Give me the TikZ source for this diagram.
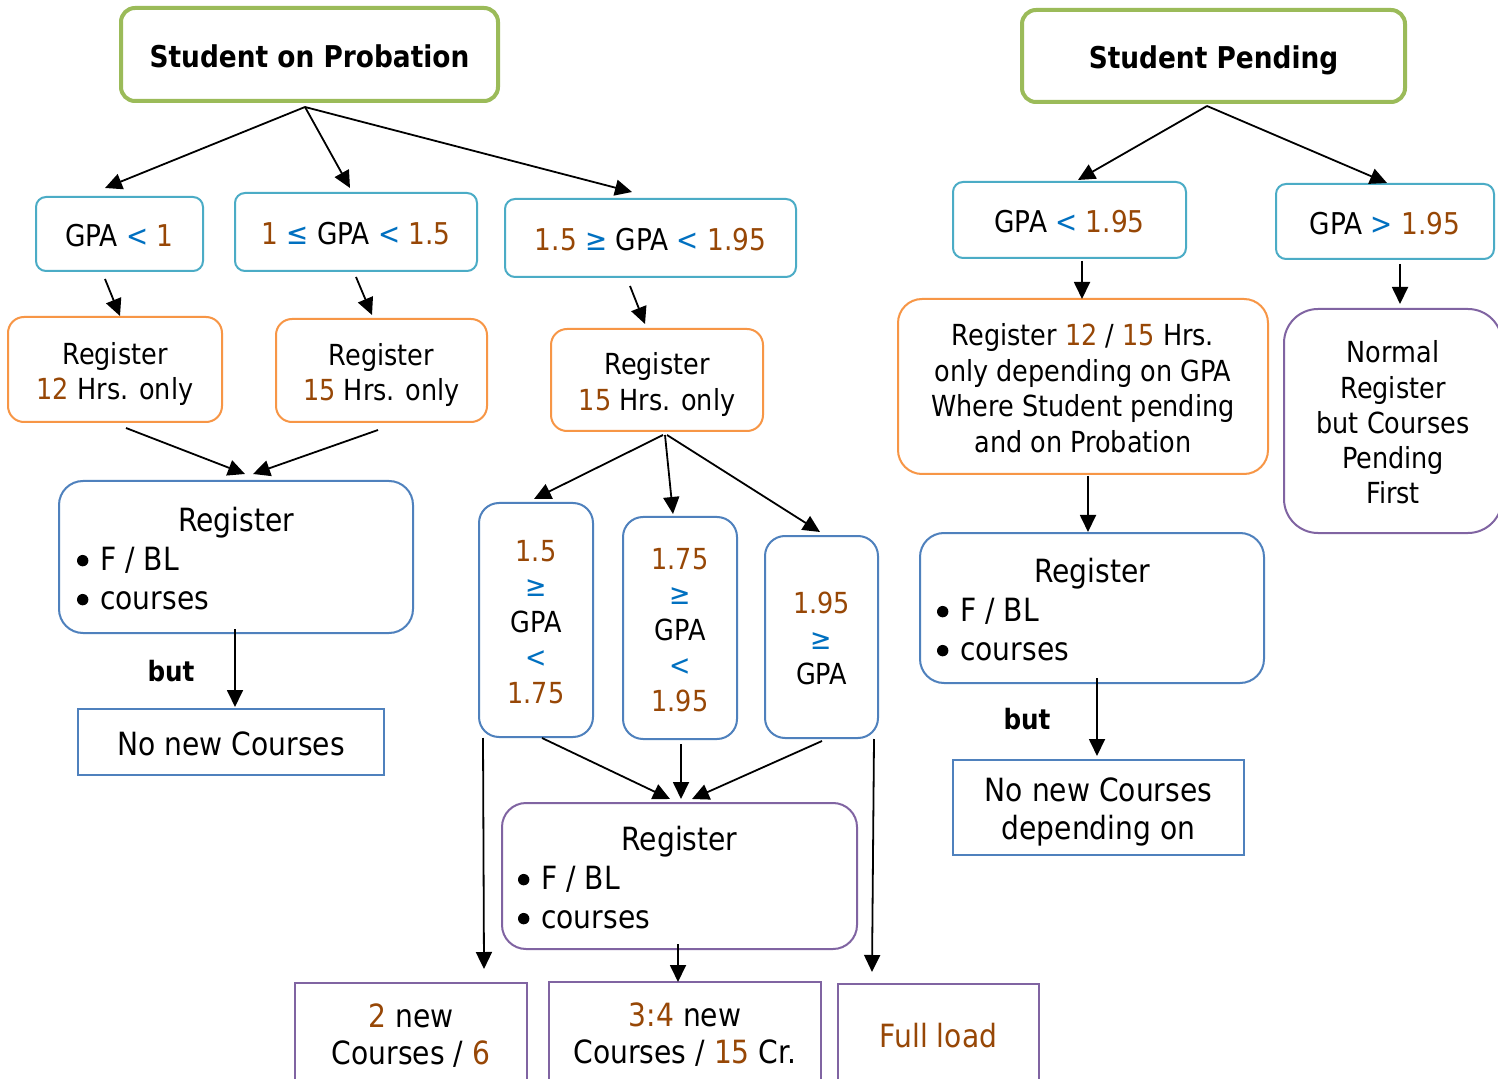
\documentclass[tikz,border=0pt]{standalone}
\usepackage{fontspec}
\setmainfont{DejaVu Sans}[FakeStretch=0.88]
\usetikzlibrary{calc,arrows.meta}
\definecolor{numc}{RGB}{151,71,6}
\definecolor{symc}{RGB}{0,112,192}
\definecolor{tealc}{RGB}{75,172,198}
\definecolor{orc}{RGB}{247,150,70}
\definecolor{grc}{RGB}{155,187,89}
\definecolor{blc}{RGB}{79,129,189}
\definecolor{puc}{RGB}{128,100,162}
\newcommand\NUM[1]{\textcolor{numc}{#1}}
\newcommand\SYM[1]{\textcolor{symc}{#1}}
\newcommand\TXT[1]{\raisebox{-0.15\baselineskip}[\height][\depth]{\begin{tabular}{@{}c@{}}#1\end{tabular}}}
\newcommand\BUL{\hspace{-0.5pt}\tikz[baseline=0pt]{\path (0pt,0pt) rectangle (11.6pt,0pt); \fill[black] (2.85pt,5pt) circle[radius=2.85pt];}}
\newcommand\mybox[7]{\node[#6, minimum width={(#4-#2)*0.5pt}, minimum height={(#5-#3)*0.5pt}] (#1) at ({(#2+#4)/2},{(#3+#5)/2}) {\TXT{#7}};}
\tikzset{
  base/.style={inner sep=0pt, line width=1pt},
  titlebox/.style={base, draw=grc, line width=2pt, rounded corners=7pt, font=\fontsize{15}{18}\selectfont\bfseries},
  gpabox/.style={base, draw=tealc, rounded corners=5pt, font=\fontsize{15}{18}\selectfont},
  orbox/.style={base, draw=orc, rounded corners=8pt, font=\fontsize{14.5}{17.75}\selectfont},
  regbox/.style={base, draw=blc, rounded corners=12pt, font=\fontsize{16}{19.5}\selectfont},
  vbox/.style={base, draw=blc, rounded corners=10pt, font=\fontsize{14.5}{17.75}\selectfont},
  sqbox/.style={base, draw=blc, font=\fontsize{16}{19}\selectfont},
  pqbox/.style={base, draw=puc, font=\fontsize{16}{18.5}\selectfont},
  arr/.style={-{Triangle[length=8.5pt,width=8pt]}, line width=0.9pt},
  butlbl/.style={inner sep=0pt, font=\fontsize{14}{17}\selectfont\bfseries}
}
\begin{document}
\begin{tikzpicture}[x=0.5pt,y=-0.5pt]
\useasboundingbox (0,0) rectangle (1498,1079);
\fill[white] (0,0) rectangle (1498,1079);
\clip (0,0) rectangle (1498,1079);
% titles
\mybox{t1}{121}{8}{498}{101}{titlebox}{Student on Probation}
\mybox{t2}{1022}{10}{1405}{102}{titlebox}{Student Pending}
% GPA boxes
\mybox{g1}{36}{197}{203}{271}{gpabox}{GPA \SYM{<} \NUM{1}}
\mybox{g2}{235}{193}{477}{271}{gpabox}{\NUM{1} \SYM{≤} GPA \SYM{<} \NUM{1.5}}
\mybox{g3}{505}{199}{796}{277}{gpabox}{\NUM{1.5} \SYM{≥} GPA \SYM{<} \NUM{1.95}}
\mybox{g4}{953}{182}{1186}{258}{gpabox}{GPA \SYM{<} \NUM{1.95}}
\mybox{g5}{1276}{184}{1494}{259}{gpabox}{GPA \SYM{>} \NUM{1.95}}
% orange boxes
\mybox{o1}{8}{317}{222}{422}{orbox}{Register\\\NUM{12} Hrs. only}
\mybox{o2}{276}{319}{487}{422}{orbox}{Register\\\NUM{15} Hrs. only}
\mybox{o3}{551}{329}{763}{431}{orbox}{Register\\\NUM{15} Hrs. only}
\mybox{o4}{898}{299}{1268}{474}{orbox, rounded corners=12pt}{Register \NUM{12} / \NUM{15} Hrs.\\only depending on GPA\\Where Student pending\\and on Probation}
\mybox{p5}{1284}{309}{1502}{533}{base, draw=puc, rounded corners=17pt, font=\fontsize{14.5}{17.6}\selectfont}{Normal\\Register\\but Courses\\Pending\\First}
% blue register boxes
\mybox{b1}{59}{481}{413}{633}{regbox}{\makebox[158pt]{Register}\\\makebox[158pt][l]{\BUL F / BL}\\\makebox[158pt][l]{\BUL courses}}
\mybox{b2}{920}{533}{1264}{683}{regbox}{\makebox[154pt]{Register}\\\makebox[154pt][l]{\BUL F / BL}\\\makebox[154pt][l]{\BUL courses}}
\mybox{b3}{502}{803}{857}{949}{regbox, draw=puc}{\makebox[160.5pt]{Register}\\\makebox[160.5pt][l]{\BUL F / BL}\\\makebox[160.5pt][l]{\BUL courses}}
% no new courses
\mybox{nn1}{78}{709}{384}{775}{sqbox}{No new Courses}
\mybox{nn2}{953}{760}{1244}{855}{sqbox}{No new Courses\\depending on}
\node[butlbl] (but1) at (171,671) {but};
\node[butlbl] (but2) at (1027,719) {but};
% vertical GPA boxes
\mybox{v1}{479}{503}{593}{737}{vbox}{\NUM{1.5}\\\SYM{≥}\\GPA\\\SYM{<}\\\NUM{1.75}}
\mybox{v2}{623}{517}{737}{739}{vbox}{\NUM{1.75}\\\SYM{≥}\\GPA\\\SYM{<}\\\NUM{1.95}}
\mybox{v3}{765}{536}{878}{738}{vbox}{\NUM{1.95}\\\SYM{≥}\\GPA}
% bottom boxes
\mybox{r1}{295}{983}{527}{1083}{pqbox}{\NUM{2} new\\Courses / \NUM{6}}
\mybox{r2}{549}{982}{821}{1082}{pqbox}{\NUM{3:4} new\\Courses / \NUM{15} Cr.}
\mybox{r3}{838}{984}{1039}{1086}{pqbox}{\NUM{Full load}}
% connectors
\draw[arr] ($(t1.south)+(-4.5,4)$) -- ($(g1.north)+(-14.5,-8)$);
\draw[arr] ($(t1.south)+(-4.5,4)$) -- ($(g2.north)+(-6,-4)$);
\draw[arr] ($(t1.south)+(-4.5,4)$) -- ($(g3.north)+(-18.5,-6)$);
\draw[arr] ($(t2.south)+(-6.5,2)$) -- ($(g4.north)+(8.5,-1)$);
\draw[arr] ($(t2.south)+(-6.5,2)$) -- ($(g5.north)+(2,0)$);
\draw[arr] ($(g1.south)+(-14.5,7)$) -- ($(o1.north)+(5,0)$);
\draw[arr] ($(g2.south)+(0,5)$) -- ($(o2.north)+(-9.5,-3)$);
\draw[arr] ($(g3.south)+(-20.5,8)$) -- ($(o3.north)+(-12,-4)$);
\draw[arr] ($(g4.south)+(12.5,2)$) -- ($(o4.north)+(-1,1)$);
\draw[arr] ($(g5.south)+(15,4)$) -- ($(p5.north)+(7,-4)$);
\draw[arr] ($(o1.south)+(11,5)$) -- ($(b1.north)+(9,-6)$);
\draw[arr] ($(o2.south)+(-3.5,7)$) -- ($(b1.north)+(17,-6)$);
\draw[arr] ($(o3.south)+(6,3)$) -- ($(v1.north)+(-2,-3)$);
\draw[arr] ($(o3.south)+(8,3)$) -- ($(v2.north)+(-7,-2)$);
\draw[arr] ($(o3.south)+(10,3)$) -- ($(v3.north)+(-1.5,-3)$);
\draw[arr] ($(o4.south)+(5,1)$) -- ($(b2.north)+(-4,0)$);
\draw[arr] ($(b1.south)+(-1,-5)$) -- ($(nn1.north)+(4,-1)$);
\draw[arr] ($(b2.south)+(5,-6)$) -- ($(nn2.north)+(-1.5,-3)$);
\draw[arr] ($(v1.south west)+(5,0)$) -- ($(r1.north)+(73,-13)$);
\draw[arr] ($(v3.south east)+(-5,0)$) -- ($(r3.north west)+(35,-11)$);
\draw[arr] ($(v1.south)+(6,0)$) -- ($(b3.north)+(-9.5,-3)$);
\draw[arr] ($(v2.south)+(1,4)$) -- ($(b3.north)+(1.5,-3)$);
\draw[arr] ($(v3.south)+(0.5,2)$) -- ($(b3.north)+(12.5,-3)$);
\draw[arr] ($(b3.south)+(-1.5,-6)$) -- ($(r2.north)+(-7,1)$);
\end{tikzpicture}
\end{document}
